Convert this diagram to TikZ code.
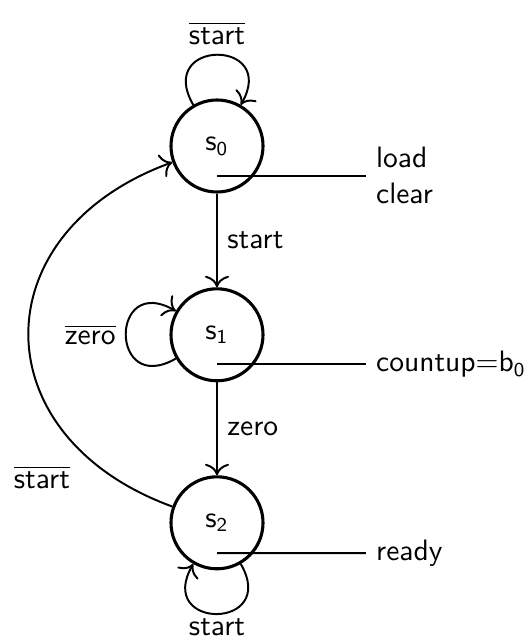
\documentclass[tikz,border=0pt]{standalone}
\usepackage{tikz}
\usetikzlibrary{arrows.meta}

\begin{document}
\begin{tikzpicture}[font=\fontsize{10.5}{13}\selectfont\sffamily, line width=0.7pt, >={To[scale=1.3]},
		estado/.style={circle, draw, line width=1.1pt, minimum size=1.15cm, inner sep=0pt}]
		\useasboundingbox (-2.7125,1.825) rectangle (3.8875,-6.175);
		
		% estados de la máquina
		\node[estado] (s0) at (0,0) {s$_\mathsf{0}$};
		\node[estado] (s1) at (0,-2.36) {s$_\mathsf{1}$};
		\node[estado] (s2) at (0,-4.71) {s$_\mathsf{2}$};
		
		% salidas de cada estado
		\node[anchor=west, align=left] (o0) at (1.86,-0.37) {load\\clear};
		\node[anchor=west] (o1) at (1.86,-2.73) {countup=b$_\mathsf{0}$};
		\node[anchor=west] (o2) at (1.86,-5.09) {ready};
		\draw ([yshift=-0.37cm]s0.center) -- (o0.west);
		\draw ([yshift=-0.37cm]s1.center) -- (o1.west);
		\draw ([yshift=-0.38cm]s2.center) -- (o2.west);
		
		% transiciones
		\draw[->] (s0) -- node[right] {start} (s1);
		\draw[->] (s1) -- node[right] {zero} (s2);
		\draw[->] (s2) to[out=160, in=200, distance=2.55cm]
			node[pos=0.2, below left, yshift=-0.06cm] {$\overline{\mbox{start}}$} (s0);
		
		% bucles sobre el mismo estado
		\draw[->] (s0) to[out=120, in=60, distance=9.6mm] node[above] {$\overline{\mbox{start}}$} (s0);
		\draw[->] (s1) to[out=210, in=150, distance=9.6mm] node[left] {$\overline{\mbox{zero}}$} (s1);
		\draw[->] (s2) to[out=300, in=240, distance=9.6mm] node[below, inner sep=1.5pt] {start} (s2);
	\end{tikzpicture}
\end{document}
